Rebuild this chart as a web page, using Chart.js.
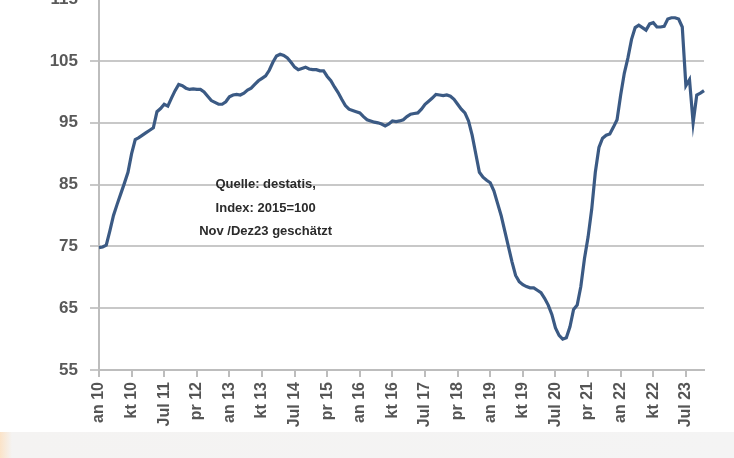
<!DOCTYPE html>
<html>
<head>
<meta charset="utf-8">
<script src="https://cdn.jsdelivr.net/npm/chart.js@4/dist/chart.umd.min.js"></script>
<style>
  html, body { margin: 0; padding: 0; background: #fff; overflow: hidden; }
  body { width: 734px; height: 458px; position: relative; }
  #strip { position: absolute; left: 0; top: 432px; width: 734px; height: 26px;
           background: linear-gradient(to right, #fbe3c8 0px, #f4f3f2 12px, #f4f4f4 100%); }
  #wrap { position: absolute; left: 0; top: -23px; width: 734px; height: 481px; }
</style>
</head>
<body>
<div id="strip"></div>
<div id="wrap"><canvas id="myChart"></canvas></div>
<script>
// monthly index, Jan 2010 .. Dec 2023
let y2010 = [74.8, 74.9, 75.2, 77.5, 80.0, 81.8, 83.5, 85.2, 87.0, 90.0, 92.3, 92.6];
let y2011 = [93.0, 93.4, 93.8, 94.2, 96.8, 97.3, 98.0, 97.7, 99.0, 100.2, 101.2, 101.0];
let y2012 = [100.6, 100.4, 100.5, 100.4, 100.4, 100.0, 99.3, 98.6, 98.3, 98.0, 98.0, 98.4];
let y2013 = [99.2, 99.5, 99.6, 99.5, 99.8, 100.3, 100.6, 101.2, 101.8, 102.2, 102.6, 103.5];
let y2014 = [104.8, 105.8, 106.1, 105.9, 105.5, 104.8, 104.0, 103.6, 103.8, 104.0, 103.7, 103.6];
let y2015 = [103.6, 103.4, 103.4, 102.5, 101.8, 100.8, 99.9, 98.8, 97.8, 97.2, 97.0, 96.8];
let y2016 = [96.6, 96.0, 95.5, 95.3, 95.1, 95.0, 94.8, 94.5, 94.8, 95.3, 95.2, 95.3];
let y2017 = [95.5, 96.0, 96.4, 96.5, 96.6, 97.2, 98.0, 98.5, 99.0, 99.6, 99.5, 99.4];
let y2018 = [99.5, 99.3, 98.8, 98.0, 97.2, 96.6, 95.3, 93.0, 90.0, 87.0, 86.2, 85.7];
let y2019 = [85.3, 84.0, 82.0, 80.0, 77.5, 75.0, 72.5, 70.3, 69.3, 68.8, 68.5, 68.3];
let y2020 = [68.3, 67.9, 67.5, 66.6, 65.5, 64.0, 61.8, 60.6, 60.0, 60.2, 62.0, 64.8];
let y2021 = [65.5, 68.5, 73.0, 76.5, 81.0, 87.0, 91.0, 92.5, 93.0, 93.2, 94.3, 95.5];
let y2022 = [99.5, 103.0, 105.5, 108.5, 110.4, 110.8, 110.4, 110.0, 111.0, 111.2, 110.5, 110.5];
let y2023 = [110.6, 111.8, 112.0, 112.0, 111.8, 110.5, 101.0, 102.0, 95.0, 99.5, 99.8, 100.2];

let years = [y2010, y2011, y2012, y2013, y2014, y2015, y2016, y2017, y2018, y2019, y2020, y2021, y2022, y2023];
let monthNames = ["Jan", "Feb", "Mrz", "Apr", "Mai", "Jun", "Jul", "Aug", "Sep", "Okt", "Nov", "Dez"];

// x tick labels as they show in the picture (every 9th month)
let tickLabels = ["an 10", "kt 10", "Jul 11", "pr 12", "an 13", "kt 13", "Jul 14", "pr 15", "an 16",
                  "kt 16", "Jul 17", "pr 18", "an 19", "kt 19", "Jul 20", "pr 21", "an 22", "kt 22", "Jul 23"];
let yTicks = [55, 65, 75, 85, 95, 105, 115];
let note = ["Quelle: destatis,", "Index: 2015=100", "Nov /Dez23 geschätzt"];

let categories = [];
let values = [];
years.forEach((arr, i) => {
  arr.forEach((v, m) => {
    categories.push(monthNames[m] + " " + String(10 + i));
    values.push(v);
  });
});

const gridGray = "#c8c8c8";

const notePlugin = {
  id: "note",
  afterDatasetsDraw(chart) {
    const ctx = chart.ctx;
    const x = chart.scales.x.getPixelForValue(46);
    const y = chart.scales.y.getPixelForValue(85);
    ctx.save();
    ctx.font = "bold 13px 'Liberation Sans', Arial, sans-serif";
    ctx.fillStyle = "#2b2b2b";
    ctx.textAlign = "center";
    ctx.textBaseline = "middle";
    note.forEach((t, i) => ctx.fillText(t, x, y + i * 23.5));
    ctx.restore();
  }
};

let myChart = document.getElementById("myChart").getContext("2d");

let indexChart = new Chart(myChart, {
  type: "line",
  data: {
    labels: categories,
    datasets: [
      {
        data: values,
        borderColor: "#3b5a84",
        borderWidth: 3.2,
        pointRadius: 0,
        tension: 0,
        fill: false,
      },
    ],
  },
  options: {
    responsive: true,
    maintainAspectRatio: false,
    animation: false,
    layout: { padding: { top: 0, right: 30, bottom: 0, left: 0 } },
    plugins: { legend: { display: false }, tooltip: { enabled: false } },
    scales: {
      x: {
        offset: false,
        afterFit: (s) => { s.height = 88; },
        border: { display: true, color: "#bdbdbd", width: 2 },
        grid: { drawOnChartArea: false, color: "#bdbdbd", tickLength: 7, lineWidth: 2 },
        ticks: {
          autoSkip: false,
          minRotation: 90,
          maxRotation: 90,
          padding: 5,
          color: "#555",
          font: { family: "'Liberation Sans', Arial, sans-serif", size: 16, weight: "bold" },
          callback: (v, i) => (i % 9 === 0 ? tickLabels[i / 9] : null),
        },
      },
      y: {
        min: 55,
        max: 115,
        afterFit: (s) => { s.width = 99; },
        afterBuildTicks: (s) => { s.ticks = yTicks.map((v) => ({ value: v })); },
        border: { display: true, color: "#bdbdbd", width: 2 },
        grid: { color: gridGray, lineWidth: 2, tickLength: 9 },
        ticks: {
          padding: 12,
          color: "#595959",
          font: { family: "'Liberation Sans', Arial, sans-serif", size: 17, weight: "bold" },
        },
      },
    },
  },
  plugins: [notePlugin],
});
</script>
</body>
</html>
